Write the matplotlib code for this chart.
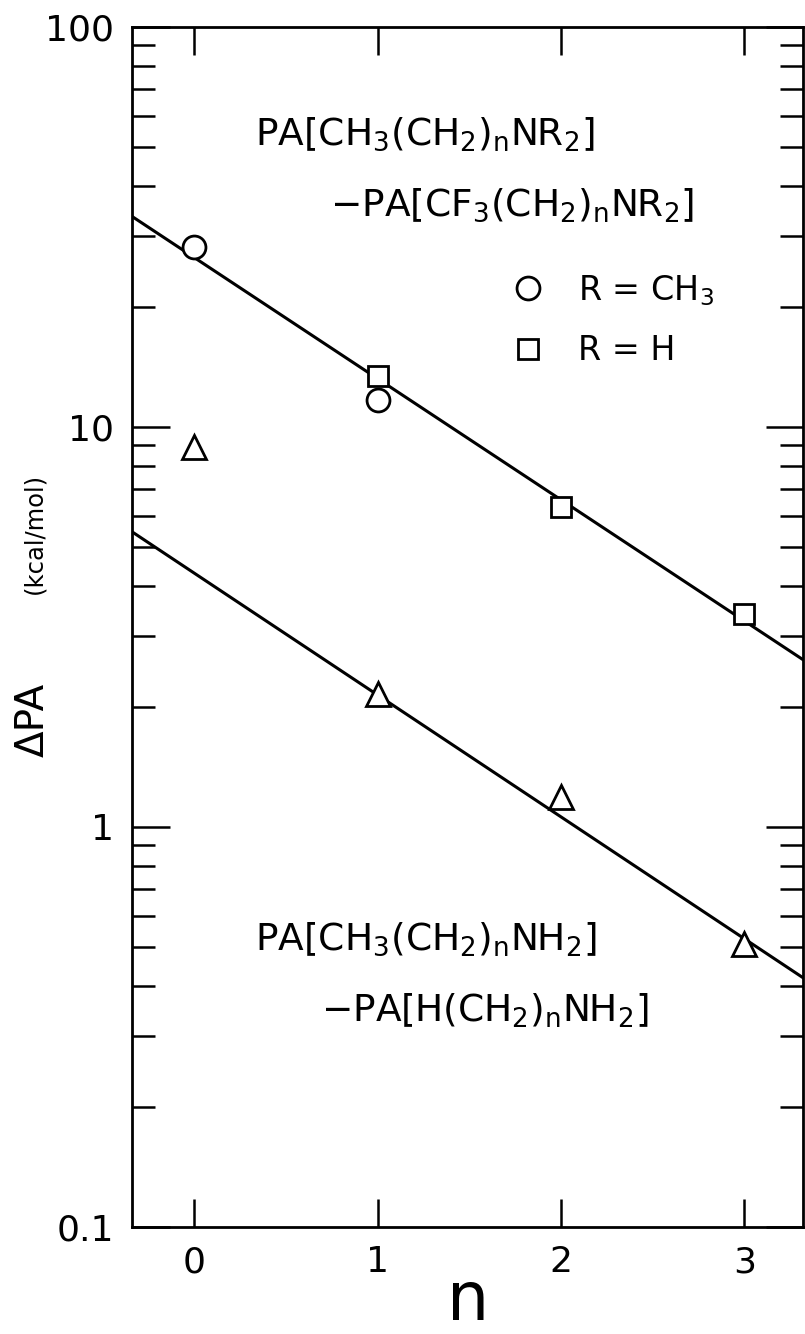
import matplotlib
matplotlib.use("Agg")
import matplotlib.pyplot as plt
import numpy as np

plt.rcParams['font.family'] = ['DejaVu Sans']
plt.rcParams['mathtext.default'] = 'regular'

# data
n_circle = [0, 1]
dpa_circle = [28.1, 11.7]          # R = CH3
n_square = [1, 2, 3]
dpa_square = [13.4, 6.3, 3.41]     # R = H
n_triangle = [0, 1, 2, 3]
dpa_triangle = [8.9, 2.15, 1.19, 0.51]

# fitted straight lines (ends at the axis limits)
fit_n = [-0.34, 3.32]
fit_upper = [33.6, 2.62]
fit_lower = [5.47, 0.42]

x_ticks = [0, 1, 2, 3]
y_ticks = [0.1, 1, 10, 100]
y_ticklabels = ['0.1', '1', '10', '100']

fig = plt.figure(figsize=(8.05, 13.34), dpi=100)
ax = fig.add_axes([0.164, 0.0802, 0.8335, 0.8996])

lw = 2.2
ax.plot(fit_n, fit_upper, color='black', lw=lw, zorder=2)
ax.plot(fit_n, fit_lower, color='black', lw=lw, zorder=2)

circ, = ax.plot(n_circle, dpa_circle, 'o', ms=16.5, mfc='white', mec='black',
                mew=2.0, ls='none', zorder=3, label='R = CH$_3$')
sq, = ax.plot(n_square, dpa_square, 's', ms=14, mfc='white', mec='black',
              mew=2.0, ls='none', zorder=3, label='R = H')
ax.plot(n_triangle, dpa_triangle, '^', ms=17, mfc='white', mec='black',
        mew=2.0, ls='none', zorder=3)

ax.set_yscale('log')
ax.set_xlim(fit_n[0], fit_n[1])
ax.set_ylim(0.1, 100)

ax.set_xticks(x_ticks)
ax.set_xticklabels([str(t) for t in x_ticks])
ax.set_yticks(y_ticks)
ax.set_yticklabels(y_ticklabels)
ax.yaxis.set_minor_locator(matplotlib.ticker.LogLocator(base=10, subs=np.arange(2, 10)))
ax.yaxis.set_minor_formatter(matplotlib.ticker.NullFormatter())

ax.tick_params(axis='both', which='both', direction='in', top=True, right=True,
               width=1.8, labelsize=26, pad=13)
ax.tick_params(axis='y', which='major', length=27)
ax.tick_params(axis='y', which='minor', length=16.5)
ax.tick_params(axis='x', which='major', length=20)
for s in ax.spines.values():
    s.set_linewidth(2.0)

# annotations
fs = 27
ax.text(0.183, 0.902, r'PA[CH$_3$(CH$_2$)$_n$NR$_2$]', transform=ax.transAxes,
        fontsize=fs, va='baseline', ha='left')
ax.text(0.295, 0.843, '\u2212' + r'PA[CF$_3$(CH$_2$)$_n$NR$_2$]', transform=ax.transAxes,
        fontsize=fs, va='baseline', ha='left')
ax.text(0.183, 0.231, r'PA[CH$_3$(CH$_2$)$_n$NH$_2$]', transform=ax.transAxes,
        fontsize=fs, va='baseline', ha='left')
ax.text(0.282, 0.171, '\u2212' + r'PA[H(CH$_2$)$_n$NH$_2$]', transform=ax.transAxes,
        fontsize=fs, va='baseline', ha='left')

ax.legend(handles=[circ, sq], loc='upper left', bbox_to_anchor=(0.565, 0.795),
          frameon=False, fontsize=24, handlelength=1.0, handletextpad=1.0,
          labelspacing=0.8, borderpad=0, borderaxespad=0)

# axis labels
fig.text(0.040, 1 - 720 / 1334, '\u0394PA', rotation=90, fontsize=28, ha='center', va='center')
fig.text(0.043, 1 - 533 / 1334, '(kcal/mol)', rotation=90, fontsize=17.5, ha='center', va='center')
fig.text(0.581, 0.0, 'n', fontsize=48, ha='center', va='bottom')

fig.savefig('out.png', dpi=100)
